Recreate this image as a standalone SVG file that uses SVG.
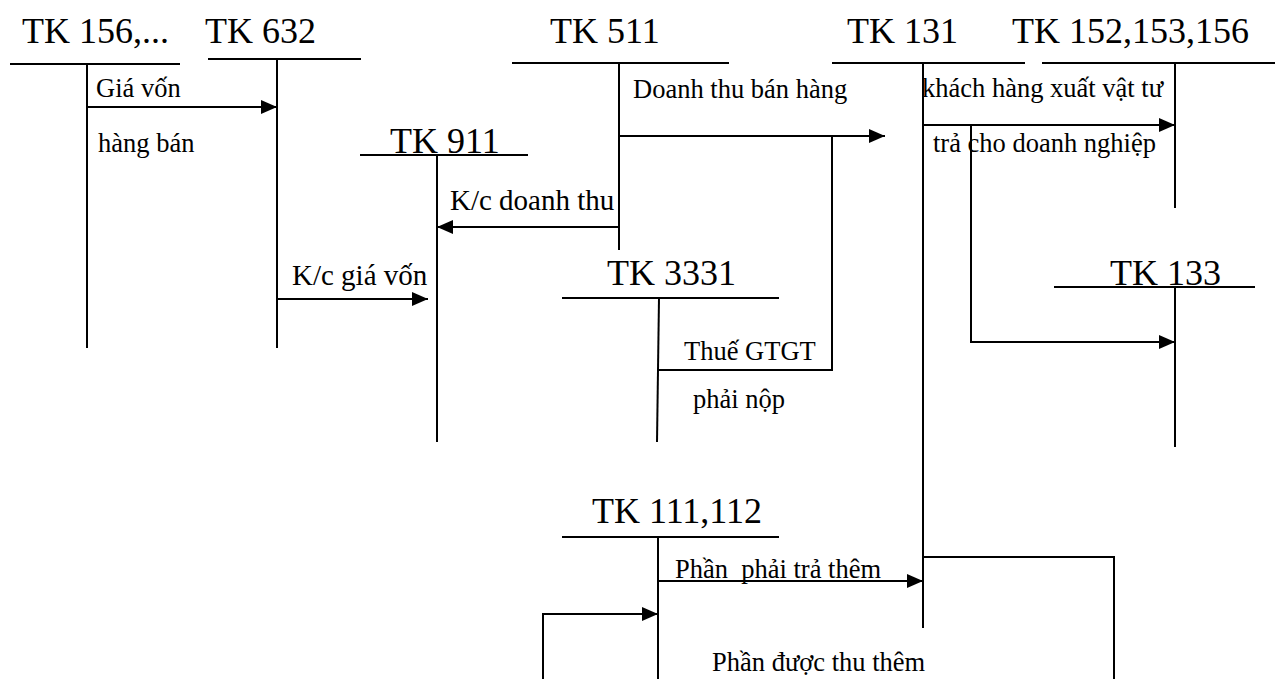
<svg xmlns="http://www.w3.org/2000/svg" width="1275" height="679" viewBox="0 0 1275 679">
<style>
.big{font-family:"Liberation Serif","Times New Roman",serif;font-size:36px;fill:#000}
.sm{font-family:"Liberation Serif","Times New Roman",serif;font-size:26.5px;fill:#000}
.kc{font-family:"Liberation Serif","Times New Roman",serif;font-size:29px;fill:#000}
.pre{white-space:pre}
line{stroke:#000;stroke-width:2;fill:none}
polyline{stroke:#000;stroke-width:2;fill:none}
.a{marker-end:url(#ah)}
</style>
<defs>
<marker id="ah" viewBox="0 0 16 14" refX="16" refY="7" markerWidth="16" markerHeight="14" markerUnits="userSpaceOnUse" orient="auto">
<path d="M0,0 L16,7 L0,14 Z" fill="#000"/>
</marker>
</defs>
<rect width="1275" height="679" fill="#fff"/>
<g id="tk156">
<text class="big" x="22" y="43">TK 156,...</text>
<line x1="10" y1="64" x2="180" y2="64"/>
<line x1="87" y1="64" x2="87" y2="348"/>
</g>
<g id="tk632">
<text class="big" x="205" y="43">TK 632</text>
<line x1="208" y1="59" x2="361" y2="59"/>
<line x1="277" y1="59" x2="277" y2="348"/>
</g>
<g id="tk511">
<text class="big" x="550" y="43">TK 511</text>
<line x1="512" y1="63" x2="729" y2="63"/>
<line x1="619" y1="63" x2="619" y2="250"/>
</g>
<g id="tk131">
<text class="big" x="847" y="43">TK 131</text>
<line x1="832" y1="63" x2="1025" y2="63"/>
<line x1="923" y1="63" x2="923" y2="628"/>
</g>
<g id="tk152">
<text class="big" x="1012" y="43">TK 152,153,156</text>
<line x1="1042" y1="63" x2="1275" y2="63"/>
<line x1="1175" y1="63" x2="1175" y2="208"/>
</g>
<g id="tk911">
<text class="big" x="390" y="153">TK 911</text>
<line x1="360" y1="155" x2="528" y2="155"/>
<line x1="437" y1="155" x2="437" y2="442"/>
</g>
<g id="tk3331">
<text class="big" x="607" y="285">TK 3331</text>
<line x1="562" y1="298" x2="779" y2="298"/>
<line x1="659" y1="298" x2="657" y2="442"/>
</g>
<g id="tk133">
<text class="big" x="1110" y="285">TK 133</text>
<line x1="1054" y1="287" x2="1255" y2="287"/>
<line x1="1175" y1="287" x2="1175" y2="447"/>
</g>
<g id="tk111">
<text class="big" x="592" y="523">TK 111,112</text>
<line x1="562" y1="537" x2="779" y2="537"/>
<line x1="658" y1="537" x2="658" y2="679"/>
</g>
<g id="connectors">
<line class="a" x1="87" y1="107" x2="277" y2="107"/>
<line class="a" x1="619" y1="136" x2="885" y2="136"/>
<line x1="832" y1="136" x2="832" y2="371"/>
<line x1="657" y1="370" x2="832" y2="370"/>
<line class="a" x1="619" y1="227" x2="437" y2="227"/>
<line class="a" x1="277" y1="299" x2="428" y2="299"/>
<line class="a" x1="923" y1="125" x2="1175" y2="125"/>
<polyline class="a" points="971,125 971,342 1175,342"/>
<line class="a" x1="658" y1="581" x2="923" y2="581"/>
<polyline points="923,557 1114,557 1114,679"/>
<polyline class="a" points="543,679 543,614 658,614"/>
</g>
<g id="labels">
<text class="sm" x="96" y="97">Giá vốn</text>
<text class="sm" x="98" y="152">hàng bán</text>
<text class="sm" x="633" y="98">Doanh thu bán hàng</text>
<text class="sm" x="922" y="97">khách hàng xuất vật tư</text>
<text class="sm" x="933" y="152">trả cho doanh nghiệp</text>
<text class="kc" x="450" y="210">K/c doanh thu</text>
<text class="kc" x="292" y="285">K/c giá vốn</text>
<text class="sm" x="684" y="360">Thuế GTGT</text>
<text class="sm" x="693" y="408">phải nộp</text>
<text class="sm pre" x="675" y="578">Phần  phải trả thêm</text>
<text class="sm" x="712" y="671">Phần được thu thêm</text>
</g>
</svg>
